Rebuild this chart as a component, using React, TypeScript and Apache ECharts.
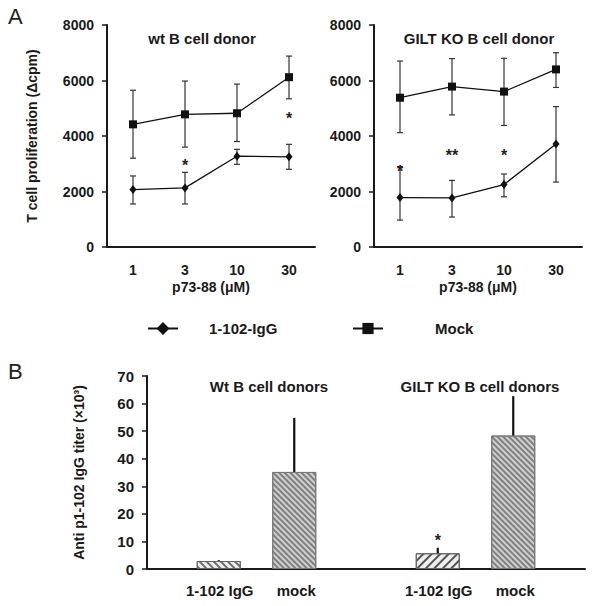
import React, { useEffect, useRef } from 'react';
import * as echarts from 'echarts';

const FONT = '"Liberation Sans", Arial, Helvetica, sans-serif';

// Panel A data (T cell proliferation, Δcpm)
const concentrations = ['1', '3', '10', '30'];
const wtMock = [4420, 4780, 4820, 6120];
const wtMockLow = [3200, 3600, 3800, 5340];
const wtMockHigh = [5650, 5980, 5870, 6880];
const wtIgG = [2070, 2130, 3270, 3250];
const wtIgGLow = [1550, 1550, 2980, 2800];
const wtIgGHigh = [2560, 2690, 3520, 3700];
const koMock = [5380, 5780, 5600, 6400];
const koMockLow = [4120, 4760, 4380, 5750];
const koMockHigh = [6700, 6790, 6800, 7000];
const koIgG = [1780, 1770, 2250, 3710];
const koIgGLow = [970, 1080, 1810, 2340];
const koIgGHigh = [2900, 2400, 2630, 5060];
const wtStarIndex = [1, 3];
const wtStarY = [2930, 4620];
const wtStarText = ['*', '*'];
const koStarIndex = [0, 1, 2];
const koStarY = [2710, 3290, 3290];
const koStarText = ['*', '**', '*'];

// Panel B data (Anti p1-102 IgG titer, ×10³)
const titerCategories = ['1-102 IgG', 'mock', '1-102 IgG', 'mock'];
const titerIgG = [2.9, null, 5.7, null];
const titerIgGTop = [3.2, null, 7.7, null];
const titerMock = [null, 35.2, null, 48.4];
const titerMockTop = [null, 54.8, null, 62.7];
const titerStarIndex = [2];
const titerStarY = [10.5];
const titerStarText = ['*'];

const BAR_W = 44;
const BAR_GAP = -10;
const SHIFT = (BAR_W + BAR_GAP) / 2;

const axisLineStyle = { color: '#1a1a1a', width: 2 };
const labelStyle = { fontFamily: FONT, fontWeight: 'bold' as const, fontSize: 14, color: '#1a1a1a' };

function errorBars(low: number[], high: number[], xi: number, yi: number) {
  return {
    type: 'custom',
    xAxisIndex: xi,
    yAxisIndex: yi,
    z: 1,
    silent: true,
    data: low.map((l, i) => [i, l, high[i]]),
    encode: { x: 0, y: [1, 2] },
    renderItem: (params: any, api: any) => {
      const x = api.value(0);
      const p1 = api.coord([x, api.value(1)]);
      const p2 = api.coord([x, api.value(2)]);
      const c = 3;
      const style = { stroke: '#333', lineWidth: 1.2 };
      return {
        type: 'group',
        children: [
          { type: 'line', shape: { x1: p1[0], y1: p1[1], x2: p2[0], y2: p2[1] }, style },
          { type: 'line', shape: { x1: p1[0] - c, y1: p1[1], x2: p1[0] + c, y2: p1[1] }, style },
          { type: 'line', shape: { x1: p2[0] - c, y1: p2[1], x2: p2[0] + c, y2: p2[1] }, style },
        ],
      };
    },
  };
}

function upBars(vals: (number | null)[], tops: (number | null)[], shift: number) {
  const data: number[][] = [];
  vals.forEach((v, i) => {
    if (v !== null && tops[i] !== null) data.push([i, v, tops[i] as number]);
  });
  return {
    type: 'custom',
    xAxisIndex: 2,
    yAxisIndex: 2,
    z: 3,
    silent: true,
    data,
    encode: { x: 0, y: [1, 2] },
    renderItem: (params: any, api: any) => {
      const x = api.value(0);
      const p1 = api.coord([x, api.value(1)]);
      const p2 = api.coord([x, api.value(2)]);
      return {
        type: 'line',
        shape: { x1: p1[0] + shift, y1: p1[1], x2: p2[0] + shift, y2: p2[1] },
        style: { stroke: '#111', lineWidth: 2.2 },
      };
    },
  };
}

function stars(idx: number[], ys: number[], texts: string[], xi: number, yi: number, shift = 0) {
  return {
    type: 'custom',
    xAxisIndex: xi,
    yAxisIndex: yi,
    z: 4,
    silent: true,
    data: idx.map((x, i) => [x, ys[i]]),
    encode: { x: 0, y: 1 },
    renderItem: (params: any, api: any) => {
      const p = api.coord([api.value(0), api.value(1)]);
      return {
        type: 'text',
        x: p[0] + shift,
        y: p[1],
        style: {
          text: texts[params.dataIndex],
          fontFamily: FONT,
          fontWeight: 'bold',
          fontSize: 16,
          fill: '#222',
          align: 'center',
          verticalAlign: 'middle',
        },
      };
    },
  };
}

function lineSeries(name: string, data: number[], xi: number, yi: number, symbol: string, size: any) {
  return {
    name,
    type: 'line',
    xAxisIndex: xi,
    yAxisIndex: yi,
    data,
    z: 2,
    symbol,
    symbolSize: size,
    lineStyle: { color: '#111', width: 1.3 },
    itemStyle: { color: '#111' },
  };
}

const mockDecal = {
  symbol: 'rect',
  symbolSize: 1,
  dashArrayX: [1, 0],
  dashArrayY: [1.3, 1.7],
  rotation: Math.PI / 4,
  color: '#808080',
  backgroundColor: '#d4d4d4',
};
const wtIgGDecal = {
  symbol: 'rect',
  symbolSize: 1,
  dashArrayX: [1, 0],
  dashArrayY: [2, 2.5],
  rotation: Math.PI / 4,
  color: '#6e6e6e',
  backgroundColor: '#f2f2f2',
};
const koIgGDecal = {
  symbol: 'rect',
  symbolSize: 1,
  dashArrayX: [1, 0],
  dashArrayY: [1.2, 3.5],
  rotation: -Math.PI / 4,
  color: '#555',
  backgroundColor: '#fafafa',
};

export default function App() {
  const ref = useRef<HTMLDivElement>(null);
  useEffect(() => {
    if (!ref.current) return;
    const chart = echarts.init(ref.current, undefined, { renderer: 'svg' });
    const catAxisA = (gi: number) => ({
      type: 'category',
      gridIndex: gi,
      data: concentrations,
      boundaryGap: true,
      axisLine: { lineStyle: axisLineStyle },
      axisTick: { length: 5, lineStyle: { color: '#1a1a1a', width: 1.5 } },
      axisLabel: { ...labelStyle, margin: 16 },
      name: 'p73-88 (μM)',
      nameLocation: 'middle',
      nameGap: 33,
      nameTextStyle: { ...labelStyle, fontSize: 14 },
    });
    const valAxisA = (gi: number, withName: boolean) => ({
      type: 'value',
      gridIndex: gi,
      min: 0,
      max: 8000,
      interval: 2000,
      splitLine: { show: false },
      axisLine: { show: true, lineStyle: axisLineStyle },
      axisTick: { show: true, length: 5, lineStyle: { color: '#1a1a1a', width: 1.5 } },
      axisLabel: { ...labelStyle, margin: 13, formatter: (v: number) => String(v) },
      ...(withName
        ? {
            name: 'T cell proliferation (Δcpm)',
            nameLocation: 'middle',
            nameGap: 68,
            nameTextStyle: { ...labelStyle, fontSize: 14 },
          }
        : {}),
    });

    const option: any = {
      animation: false,
      backgroundColor: '#ffffff',
      grid: [
        { left: 107, top: 25, width: 208, height: 222 },
        { left: 374, top: 25, width: 208, height: 222 },
        { left: 147, top: 376, width: 438, height: 193 },
      ],
      xAxis: [
        catAxisA(0),
        catAxisA(1),
        {
          type: 'category',
          gridIndex: 2,
          data: titerCategories,
          boundaryGap: true,
          axisLine: { lineStyle: axisLineStyle },
          axisTick: { length: 5, lineStyle: { color: '#1a1a1a', width: 1.5 } },
          axisLabel: {
            ...labelStyle,
            fontSize: 15,
            margin: 14,
            interval: 0,
            formatter: (v: string, i: number) => (i % 2 === 0 ? '{r|' + v + '}' : '{l|' + v + '}'),
            rich: {
              r: { ...labelStyle, fontSize: 15, padding: [0, 0, 0, 36] },
              l: { ...labelStyle, fontSize: 15, padding: [0, 30, 0, 0] },
            },
          },
        },
      ],
      yAxis: [
        valAxisA(0, true),
        valAxisA(1, false),
        {
          type: 'value',
          gridIndex: 2,
          min: 0,
          max: 70,
          interval: 10,
          splitLine: { show: false },
          axisLine: { show: true, lineStyle: axisLineStyle },
          axisTick: { show: true, length: 5, lineStyle: { color: '#1a1a1a', width: 1.5 } },
          axisLabel: { ...labelStyle, fontSize: 15, margin: 13 },
          name: 'Anti p1-102 IgG titer (×10³)',
          nameLocation: 'middle',
          nameGap: 61,
          nameTextStyle: { ...labelStyle, fontSize: 14 },
        },
      ],
      legend: [
        {
          data: ['1-102-IgG'],
          left: 142,
          top: 316,
          itemWidth: 30,
          itemHeight: 16,
          textStyle: { ...labelStyle, fontSize: 15, padding: [0, 0, 0, 26] },
        },
        {
          data: ['Mock'],
          left: 347,
          top: 316,
          itemWidth: 30,
          itemHeight: 14,
          textStyle: { ...labelStyle, fontSize: 15, padding: [0, 0, 0, 47] },
        },
      ],
      graphic: [
        { type: 'text', left: 8, top: 5, style: { text: 'A', fontFamily: FONT, fontSize: 22, fill: '#222' } },
        { type: 'text', left: 8, top: 360, style: { text: 'B', fontFamily: FONT, fontSize: 22, fill: '#222' } },
        {
          type: 'text', x: 202, y: 38,
          style: { text: 'wt B cell donor', fontFamily: FONT, fontWeight: 'bold', fontSize: 15, fill: '#1a1a1a', align: 'center', verticalAlign: 'middle' },
        },
        {
          type: 'text', x: 479, y: 38,
          style: { text: 'GILT KO B cell donor', fontFamily: FONT, fontWeight: 'bold', fontSize: 15, fill: '#1a1a1a', align: 'center', verticalAlign: 'middle' },
        },
        {
          type: 'text', x: 269, y: 386,
          style: { text: 'Wt B cell donors', fontFamily: FONT, fontWeight: 'bold', fontSize: 15, fill: '#1a1a1a', align: 'center', verticalAlign: 'middle' },
        },
        {
          type: 'text', x: 480, y: 386,
          style: { text: 'GILT KO B cell donors', fontFamily: FONT, fontWeight: 'bold', fontSize: 15, fill: '#1a1a1a', align: 'center', verticalAlign: 'middle' },
        },
      ],
      series: [
        errorBars(wtMockLow, wtMockHigh, 0, 0),
        errorBars(wtIgGLow, wtIgGHigh, 0, 0),
        errorBars(koMockLow, koMockHigh, 1, 1),
        errorBars(koIgGLow, koIgGHigh, 1, 1),
        lineSeries('1-102-IgG', wtIgG, 0, 0, 'diamond', [7, 9]),
        lineSeries('Mock', wtMock, 0, 0, 'rect', 8),
        lineSeries('1-102-IgG', koIgG, 1, 1, 'diamond', [7, 9]),
        lineSeries('Mock', koMock, 1, 1, 'rect', 8),
        stars(wtStarIndex, wtStarY, wtStarText, 0, 0),
        stars(koStarIndex, koStarY, koStarText, 1, 1),
        {
          name: 'mock bars',
          type: 'bar',
          xAxisIndex: 2,
          yAxisIndex: 2,
          barWidth: BAR_W,
          barGap: (BAR_GAP / BAR_W) * 100 + '%',
          data: titerMock.map((v) => (v === null ? '-' : v)),
          itemStyle: { color: '#cfcfcf', borderColor: '#777', borderWidth: 1, decal: mockDecal },
        },
        {
          name: 'IgG bars',
          type: 'bar',
          xAxisIndex: 2,
          yAxisIndex: 2,
          barWidth: BAR_W,
          data: titerIgG.map((v, i) =>
            v === null
              ? '-'
              : { value: v, itemStyle: { color: '#eee', borderColor: '#666', borderWidth: 1, decal: i < 2 ? wtIgGDecal : koIgGDecal } }
          ),
        },
        upBars(titerMock, titerMockTop, -SHIFT),
        upBars(titerIgG, titerIgGTop, SHIFT),
        stars(titerStarIndex, titerStarY, titerStarText, 2, 2, SHIFT),
      ],
    };
    chart.setOption(option);
    return () => chart.dispose();
  }, []);
  return (
    <div
      ref={ref}
      style={{ position: 'fixed', left: 0, top: 0, width: 600, height: 606, background: '#fff' }}
    />
  );
}
